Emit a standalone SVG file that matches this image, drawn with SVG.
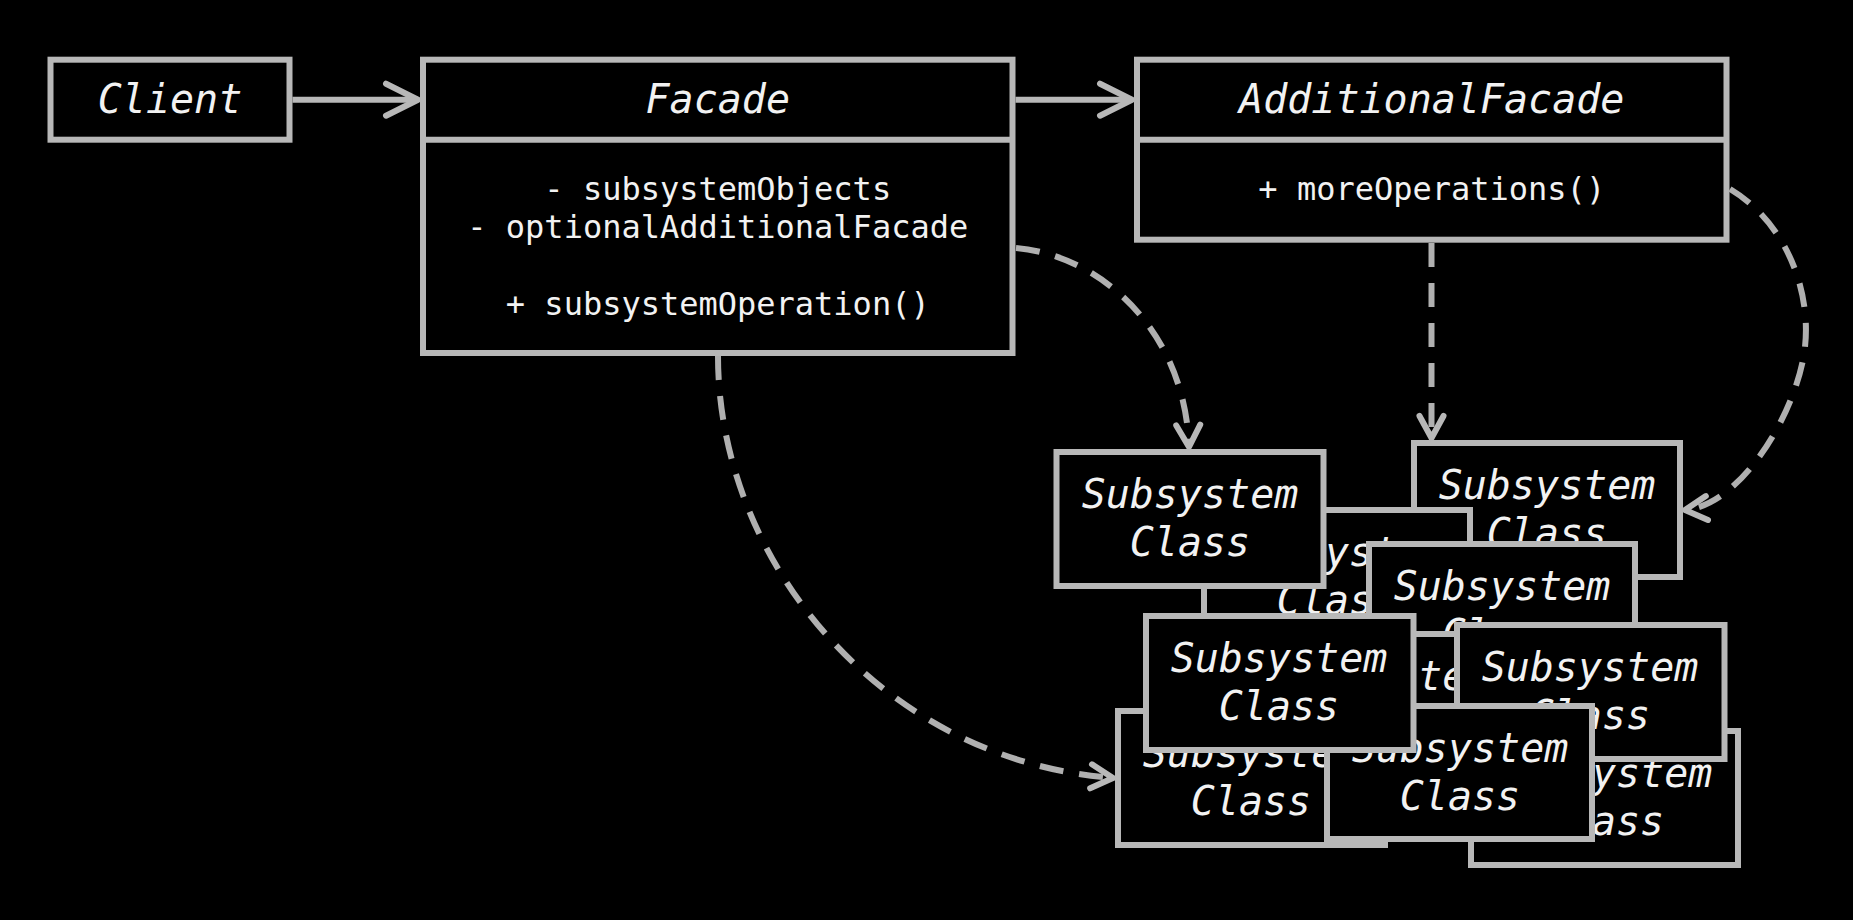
<svg xmlns="http://www.w3.org/2000/svg" width="1853" height="920" viewBox="0 0 1853 920">
<defs>
<style>
.box{fill:#000;stroke:#b8b8b8;stroke-width:6}
.div{stroke:#b8b8b8;stroke-width:6}
.title{font-family:"DejaVu Sans Mono","Liberation Mono",monospace;font-style:italic;font-size:40px;fill:#f2f2f2;text-anchor:middle}
.attr{font-family:"DejaVu Sans Mono","Liberation Mono",monospace;font-size:32px;fill:#f2f2f2;text-anchor:middle}
.solid{fill:none;stroke:#b8b8b8;stroke-width:6}
.dash{fill:none;stroke:#b0b0b0;stroke-width:6;stroke-dasharray:24 16}
.head{fill:none;stroke:#b8b8b8;stroke-width:6;stroke-linecap:round;stroke-linejoin:round;stroke-dasharray:none}
</style>
<marker id="open" markerUnits="userSpaceOnUse" markerWidth="60" markerHeight="60" viewBox="-45 -30 60 60" refX="0" refY="0" orient="auto" overflow="visible">
<path class="head" d="M -32 -16 L 0 0 L -32 16"/>
</marker>
<marker id="openS" markerUnits="userSpaceOnUse" markerWidth="60" markerHeight="60" viewBox="-45 -30 60 60" refX="0" refY="0" orient="auto" overflow="visible">
<path class="head" d="M -22 -12 L 0 0 L -22 12"/>
</marker>
</defs>
<rect x="0" y="0" width="1853" height="920" fill="#000"/>

<g id="client">
<rect class="box" x="50.5" y="59.7" width="239" height="80"/>
<text class="title" x="170" y="113">Client</text>
</g>

<g id="facade">
<rect class="box" x="423" y="59.7" width="589.5" height="293.3"/>
<line class="div" x1="423" y1="139.7" x2="1012.5" y2="139.7"/>
<text class="title" x="717.75" y="113">Facade</text>
<text class="attr" x="717.75" y="200">- subsystemObjects</text>
<text class="attr" x="717.75" y="238">- optionalAdditionalFacade</text>
<text class="attr" x="717.75" y="315">+ subsystemOperation()</text>
</g>

<g id="additional-facade">
<rect class="box" x="1137" y="59.7" width="589.5" height="180"/>
<line class="div" x1="1137" y1="139.7" x2="1726.5" y2="139.7"/>
<text class="title" x="1431.75" y="113">AdditionalFacade</text>
<text class="attr" x="1431.75" y="200">+ moreOperations()</text>
</g>

<g id="subsystem-b">
<rect class="box" x="1414" y="443" width="266" height="134"/>
<text class="title" x="1547" y="499">Subsystem</text>
<text class="title" x="1547" y="547">Class</text>
</g>
<g id="subsystem-c">
<rect class="box" x="1204" y="510" width="266" height="134"/>
<text class="title" x="1337" y="566">Subsystem</text>
<text class="title" x="1337" y="614">Class</text>
</g>
<g id="subsystem-a">
<rect class="box" x="1056.5" y="452" width="267" height="134"/>
<text class="title" x="1190" y="508">Subsystem</text>
<text class="title" x="1190" y="556">Class</text>
</g>
<g id="subsystem-d">
<rect class="box" x="1369" y="544" width="266" height="134"/>
<text class="title" x="1502" y="600">Subsystem</text>
<text class="title" x="1502" y="648">Class</text>
</g>
<g id="subsystem-e">
<rect class="box" x="1249" y="634" width="266" height="134"/>
<text class="title" x="1382" y="690">Subsystem</text>
<text class="title" x="1382" y="738">Class</text>
</g>
<g id="subsystem-h">
<rect class="box" x="1471" y="731" width="267" height="134"/>
<text class="title" x="1604" y="787">Subsystem</text>
<text class="title" x="1604" y="835">Class</text>
</g>
<g id="subsystem-g">
<rect class="box" x="1457" y="625" width="267.5" height="134"/>
<text class="title" x="1590" y="681">Subsystem</text>
<text class="title" x="1590" y="729">Class</text>
</g>
<g id="subsystem-f2">
<rect class="box" x="1118" y="711" width="267" height="134"/>
<text class="title" x="1251" y="767">Subsystem</text>
<text class="title" x="1251" y="815">Class</text>
</g>
<g id="subsystem-i">
<rect class="box" x="1327" y="706" width="265" height="133"/>
<text class="title" x="1460" y="762">Subsystem</text>
<text class="title" x="1460" y="810">Class</text>
</g>
<g id="subsystem-f">
<rect class="box" x="1146" y="616" width="267.5" height="134"/>
<text class="title" x="1279" y="672">Subsystem</text>
<text class="title" x="1279" y="720">Class</text>
</g>

<g id="connectors">
<line class="solid" x1="292.5" y1="99.7" x2="418" y2="99.7" marker-end="url(#open)"/>
<line class="solid" x1="1015.5" y1="99.7" x2="1132" y2="99.7" marker-end="url(#open)"/>
<path class="dash" d="M 1016 248 C 1100 255, 1185 330, 1189 447" marker-end="url(#openS)"/>
<path class="dash" d="M 1431.5 243 L 1431.5 438" marker-end="url(#openS)"/>
<path class="dash" d="M 1730 189 C 1790 225, 1815 300, 1803 360 C 1791 420, 1740 505, 1685 510" marker-end="url(#openS)"/>
<path class="dash" d="M 718 356 C 718 560, 880 760, 1113 778" marker-end="url(#openS)"/>
</g>
</svg>
